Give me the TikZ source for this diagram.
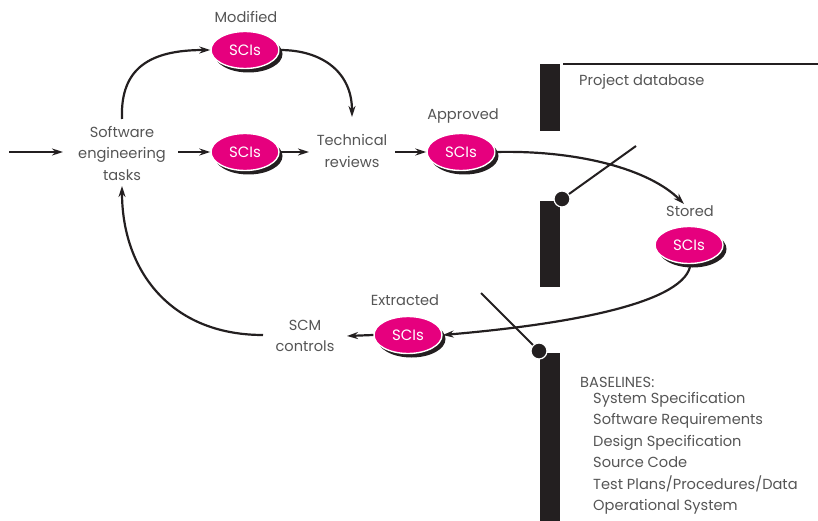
\documentclass[tikz,border=0pt]{standalone}
\usepackage{fontspec}
\setmainfont{Poppins}
\usetikzlibrary{shapes.geometric,arrows.meta,shadows}
\definecolor{sci}{HTML}{E6007E}
\definecolor{txt}{HTML}{555555}
\definecolor{ink}{HTML}{231F20}
\tikzset{
  scinode/.style={ellipse, fill=sci, draw=white, line width=1.4pt, minimum width=68pt, minimum height=37pt, inner sep=0pt,
    text=white, font=\fontsize{15}{15}\selectfont,
    drop shadow={shadow xshift=3.5pt, shadow yshift=-4pt, fill=ink, opacity=1}},
  lbl/.style={text=txt, font=\fontsize{14.6}{21.5}\selectfont, align=center, inner sep=0pt},
  conn/.style={draw=ink, line width=2.2pt, -{Stealth[length=11pt,width=7pt,fill=ink!75]}},
  plainline/.style={draw=ink, line width=2pt},
  bar/.style={fill=ink, draw=none},
}
\begin{document}
\begin{tikzpicture}[x=1pt,y=-1pt]
\useasboundingbox (0,0) rectangle (818,521);
% text nodes
\node[lbl] (swe) at (122,153) {Software\\engineering\\tasks};
\node[lbl] (tech) at (352,151) {Technical\\reviews};
\node[lbl] (scm) at (305,336) {SCM\\controls};
\node[lbl] (lmod) at (246,17) {Modified};
\node[lbl] (lapp) at (463,116) {Approved};
\node[lbl] (lsto) at (690,211) {Stored};
\node[lbl] (lext) at (405,300) {Extracted};
% SCI ellipses
\node[scinode] (mod) at (245,50) {SCIs};
\node[scinode] (mid) at (245,152) {SCIs};
\node[scinode] (app) at (461,152) {SCIs};
\node[scinode] (sto) at (689,245) {SCIs};
\node[scinode] (ext) at (408,335) {SCIs};
% coordinates
\coordinate (in) at (9,152);
\coordinate (inE) at (63,152);
\coordinate (sweR) at (178,152);
\coordinate (sweT) at (122,119);
\coordinate (sweB) at (122,186);
\coordinate (techL) at (309,152);
\coordinate (techT) at (352,117);
\coordinate (techR) at (395,152);
\coordinate (scmL) at (263,335);
\coordinate (scmR) at (347,336);
\coordinate (stoIn) at (684,204);
\coordinate (stoOut) at (690,267);
% straight arrows
\draw[conn] (in) -- (inE);
\draw[conn] (sweR) -- (mid.west);
\draw[conn] (mid.east) -- (techL);
\draw[conn] (techR) -- (app.west);
\draw[conn] (ext.west) -- (scmR);
% curves
\draw[conn] (sweT) .. controls (120,68) and (150,50) .. (mod.west);
\draw[conn] (mod.east) .. controls (322,50) and (352,72) .. (techT);
\draw[conn] (app.east) .. controls (580,150) and (650,170) .. (stoIn);
\draw[conn] (stoOut) .. controls (680,305) and (560,325) .. (ext.east);
\draw[conn] (scmL) .. controls (170,335) and (122,270) .. (sweB);
% database bars
\fill[bar] (540,64) rectangle (560,131);
\fill[bar] (540,201) rectangle (560,287);
\fill[bar] (540,353) rectangle (560,521);
\coordinate (hl0) at (563,64);
\coordinate (hl1) at (818,64);
\draw[plainline] (hl0) -- (hl1);
\node[lbl, anchor=west] (pdb) at (579,82) {Project database};
% switches
\coordinate (sw1) at (636,146);
\coordinate (sw2) at (481,293);
\node[circle, fill=ink, draw=white, line width=1.2pt, minimum size=16pt, inner sep=0pt] (d1) at (562,199) {};
\node[circle, fill=ink, draw=white, line width=1.2pt, minimum size=16pt, inner sep=0pt] (d2) at (539,351) {};
\draw[plainline] (d1) -- (sw1);
\draw[plainline] (d2) -- (sw2);
% baselines
\node[lbl, anchor=west] (bl) at (580,382) {BASELINES:};
\node[lbl, anchor=north west, align=left] (bll) at (593,392) {System Specification\\Software Requirements\\Design Specification\\Source Code\\Test Plans/Procedures/Data\\Operational System};
\end{tikzpicture}
\end{document}
